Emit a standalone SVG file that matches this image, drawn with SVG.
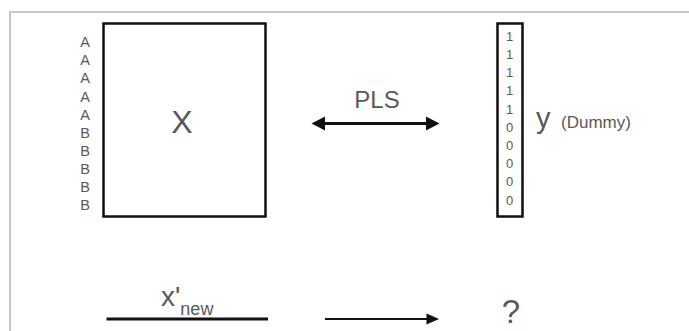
<svg xmlns="http://www.w3.org/2000/svg" width="689" height="331" viewBox="0 0 689 331">
<style>
  text { font-family: "Liberation Sans", Arial, sans-serif; fill: #595959; }
  .lbl { font-size: 14.5px; text-anchor: middle; }
  .dig { font-size: 13px; text-anchor: middle; }
  .box { fill: none; stroke: #111; stroke-width: 2.5; }
  .frame { stroke: #c8c8c8; stroke-width: 2; fill: none; }
</style>
<rect width="689" height="331" fill="#fff"/>
<path class="frame" d="M10,331 V12 H689"/>
<g id="X-matrix">
  <rect class="box" x="103.5" y="23.5" width="162" height="193"/>
  <text x="182" y="133" font-size="32" text-anchor="middle">X</text>
  <g class="lbl-col">
    <text class="lbl" x="85" y="47">A</text>
    <text class="lbl" x="85" y="65.2">A</text>
    <text class="lbl" x="85" y="83.3">A</text>
    <text class="lbl" x="85" y="101.5">A</text>
    <text class="lbl" x="85" y="119.6">A</text>
    <text class="lbl" x="85" y="137.8">B</text>
    <text class="lbl" x="85" y="155.9">B</text>
    <text class="lbl" x="85" y="174.1">B</text>
    <text class="lbl" x="85" y="192.2">B</text>
    <text class="lbl" x="85" y="210.4">B</text>
  </g>
</g>
<g id="y-vector">
  <rect class="box" x="497.5" y="23.5" width="25" height="193"/>
  <text class="dig" x="509.5" y="40.8">1</text>
  <text class="dig" x="509.5" y="59">1</text>
  <text class="dig" x="509.5" y="77.2">1</text>
  <text class="dig" x="509.5" y="95.4">1</text>
  <text class="dig" x="509.5" y="113.6">1</text>
  <text class="dig" x="509.5" y="131.8">0</text>
  <text class="dig" x="509.5" y="150">0</text>
  <text class="dig" x="509.5" y="168.2">0</text>
  <text class="dig" x="509.5" y="186.4">0</text>
  <text class="dig" x="509.5" y="204.6">0</text>
  <text x="536" y="128" font-size="29">y</text>
  <text x="561" y="128" font-size="17">(Dummy)</text>
</g>
<g id="x-new">
  <line x1="106.5" y1="319" x2="268" y2="319" stroke="#111" stroke-width="3"/>
  <text x="161" y="306" font-size="28">x'<tspan font-size="18" dy="8.5">new</tspan></text>
</g>
<g id="result">
  <text x="511" y="323" font-size="33" text-anchor="middle">?</text>
</g>
<g id="connectors">
  <g id="pls">
    <text x="377" y="108.3" font-size="24" text-anchor="middle">PLS</text>
    <line x1="320" y1="123.5" x2="431" y2="123.5" stroke="#111" stroke-width="3"/>
    <polygon points="311.5,123.5 325,116.5 325,130.5" fill="#111"/>
    <polygon points="439.5,123.5 426,116.5 426,130.5" fill="#111"/>
  </g>
  <g id="predict">
    <line x1="325" y1="319" x2="428" y2="319" stroke="#111" stroke-width="2"/>
    <polygon points="439,319 426.5,313.5 426.5,324.5" fill="#111"/>
  </g>
</g>
</svg>
